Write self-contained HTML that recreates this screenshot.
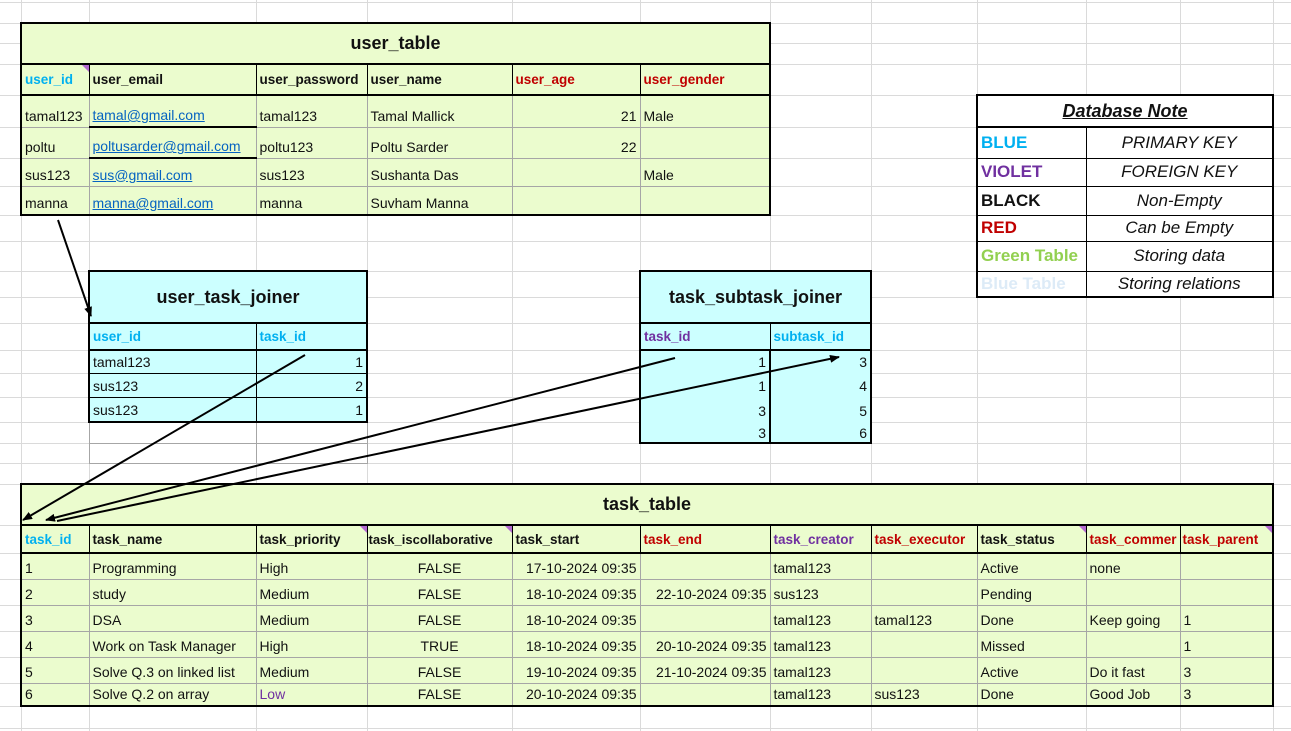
<!DOCTYPE html>
<html><head><meta charset="utf-8"><style>
body{margin:0;width:1291px;height:731px;background:#fff;position:relative;overflow:hidden;font-family:"Liberation Sans",Arial,sans-serif;font-size:14px;color:#111}
table{position:absolute;border-collapse:collapse;table-layout:fixed;border:2px solid #000}
td{padding:0 3px;white-space:nowrap;overflow:hidden;border:1px solid #a6a6a6;vertical-align:bottom;padding-bottom:3px;box-sizing:border-box}
.g td{background:#ebfcce}
.c td{background:#ccffff}
td.t{font-weight:bold;font-size:18px;text-align:center;vertical-align:middle;border-bottom:2px solid #000;padding:0}
tr.h td{font-weight:bold;font-size:13.5px;border:1px solid #000;border-bottom:2px solid #000;vertical-align:middle;padding-bottom:0}
.b{color:#00b0f0}.v{color:#7030a0}.r{color:#c00000}
.R{text-align:right}.C{text-align:center}
a{color:#0563c1;text-decoration:underline}
.tri{position:absolute;width:0;height:0;border-top:7px solid #b36ad0;border-left:7px solid transparent}
.n td{border:1px solid #000;font-size:17px;vertical-align:middle;padding-bottom:0}
.n td.k{font-weight:bold}
.n td.d{text-align:center;font-style:italic}
</style></head><body>
<svg width="1291" height="731" style="position:absolute;left:0;top:0">
<g stroke="#dadada" stroke-width="1">
<line x1="21.5" y1="0" x2="21.5" y2="731"/><line x1="89.5" y1="0" x2="89.5" y2="731"/><line x1="256.5" y1="0" x2="256.5" y2="731"/><line x1="367.5" y1="0" x2="367.5" y2="731"/><line x1="512.5" y1="0" x2="512.5" y2="731"/><line x1="640.5" y1="0" x2="640.5" y2="731"/><line x1="770.5" y1="0" x2="770.5" y2="731"/><line x1="871.5" y1="0" x2="871.5" y2="731"/><line x1="977.5" y1="0" x2="977.5" y2="731"/><line x1="1086.5" y1="0" x2="1086.5" y2="731"/><line x1="1180.5" y1="0" x2="1180.5" y2="731"/><line x1="1273.5" y1="0" x2="1273.5" y2="731"/>
<line x1="0" y1="2.5" x2="1291" y2="2.5"/><line x1="0" y1="23.5" x2="1291" y2="23.5"/><line x1="0" y1="43.5" x2="1291" y2="43.5"/><line x1="0" y1="64.5" x2="1291" y2="64.5"/><line x1="0" y1="95.5" x2="1291" y2="95.5"/><line x1="0" y1="127.5" x2="1291" y2="127.5"/><line x1="0" y1="158.5" x2="1291" y2="158.5"/><line x1="0" y1="186.5" x2="1291" y2="186.5"/><line x1="0" y1="215.5" x2="1291" y2="215.5"/><line x1="0" y1="241.5" x2="1291" y2="241.5"/><line x1="0" y1="271.5" x2="1291" y2="271.5"/><line x1="0" y1="297.5" x2="1291" y2="297.5"/><line x1="0" y1="323.5" x2="1291" y2="323.5"/><line x1="0" y1="350.5" x2="1291" y2="350.5"/><line x1="0" y1="373.5" x2="1291" y2="373.5"/><line x1="0" y1="397.5" x2="1291" y2="397.5"/><line x1="0" y1="422.5" x2="1291" y2="422.5"/><line x1="0" y1="443.5" x2="1291" y2="443.5"/><line x1="0" y1="463.5" x2="1291" y2="463.5"/><line x1="0" y1="484.5" x2="1291" y2="484.5"/><line x1="0" y1="525.5" x2="1291" y2="525.5"/><line x1="0" y1="553.5" x2="1291" y2="553.5"/><line x1="0" y1="579.5" x2="1291" y2="579.5"/><line x1="0" y1="605.5" x2="1291" y2="605.5"/><line x1="0" y1="631.5" x2="1291" y2="631.5"/><line x1="0" y1="657.5" x2="1291" y2="657.5"/><line x1="0" y1="683.5" x2="1291" y2="683.5"/><line x1="0" y1="706.5" x2="1291" y2="706.5"/><line x1="0" y1="728.5" x2="1291" y2="728.5"/>
</g>
<g stroke="#a6a6a6"><rect x="89.5" y="422.5" width="278" height="41" fill="none"/><line x1="89" y1="443.5" x2="367" y2="443.5"/><line x1="256.5" y1="422" x2="256.5" y2="463"/></g>
</svg>

<table class="g" style="left:20px;top:22px;width:751px;height:194px">
<colgroup><col style="width:68px"><col style="width:167px"><col style="width:111px"><col style="width:145px"><col style="width:128px"><col style="width:130px"></colgroup>
<tr style="height:41px"><td class="t" colspan="6">user_table</td></tr>
<tr class="h" style="height:31px"><td class="b">user_id</td><td>user_email</td><td>user_password</td><td>user_name</td><td class="r">user_age</td><td class="r">user_gender</td></tr>
<tr style="height:32px"><td>tamal123</td><td style="border-bottom:2px solid #000"><a>tamal@gmail.com</a></td><td>tamal123</td><td>Tamal Mallick</td><td class="R">21</td><td>Male</td></tr>
<tr style="height:31px"><td>poltu</td><td style="border-bottom:2px solid #000"><a>poltusarder@gmail.com</a></td><td>poltu123</td><td>Poltu Sarder</td><td class="R">22</td><td></td></tr>
<tr style="height:28px"><td>sus123</td><td><a>sus@gmail.com</a></td><td>sus123</td><td>Sushanta Das</td><td></td><td>Male</td></tr>
<tr style="height:29px"><td>manna</td><td><a>manna@gmail.com</a></td><td>manna</td><td>Suvham Manna</td><td></td><td></td></tr>
</table>

<table class="c" style="left:88px;top:270px;width:280px;height:153px">
<colgroup><col style="width:167px"><col style="width:111px"></colgroup>
<tr style="height:52px"><td class="t" colspan="2">user_task_joiner</td></tr>
<tr class="h" style="height:27px"><td class="b">user_id</td><td class="b">task_id</td></tr>
<tr style="height:23px"><td style="border-color:#000">tamal123</td><td class="R" style="border-color:#000">1</td></tr>
<tr style="height:24px"><td style="border-color:#000">sus123</td><td class="R" style="border-color:#000">2</td></tr>
<tr style="height:25px"><td style="border-color:#000">sus123</td><td class="R" style="border-color:#000">1</td></tr>
</table>

<table class="c" style="left:639px;top:270px;width:233px;height:174px">
<colgroup><col style="width:130px"><col style="width:101px"></colgroup>
<tr style="height:52px"><td class="t" colspan="2">task_subtask_joiner</td></tr>
<tr class="h" style="height:27px"><td class="v">task_id</td><td class="b">subtask_id</td></tr>
<tr style="height:23px"><td class="R" style="border:none;border-right:2px solid #000">1</td><td class="R" style="border:none">3</td></tr>
<tr style="height:24px"><td class="R" style="border:none;border-right:2px solid #000">1</td><td class="R" style="border:none">4</td></tr>
<tr style="height:25px"><td class="R" style="border:none;border-right:2px solid #000">3</td><td class="R" style="border:none">5</td></tr>
<tr style="height:21px"><td class="R" style="border:none;border-right:2px solid #000;padding-bottom:1px">3</td><td class="R" style="border:none;padding-bottom:1px">6</td></tr>
</table>

<table class="n" style="left:976px;top:94px;width:298px;height:204px;background:#fff">
<colgroup><col style="width:109px"><col style="width:187px"></colgroup>
<tr style="height:32px"><td colspan="2" style="border:2px solid #000;text-align:center;padding:0;font-weight:bold;font-style:italic;text-decoration:underline;font-size:18px">Database Note</td></tr>
<tr style="height:31px"><td class="k b">BLUE</td><td class="d">PRIMARY KEY</td></tr>
<tr style="height:28px"><td class="k v">VIOLET</td><td class="d">FOREIGN KEY</td></tr>
<tr style="height:29px"><td class="k">BLACK</td><td class="d">Non-Empty</td></tr>
<tr style="height:26px"><td class="k r">RED</td><td class="d">Can be Empty</td></tr>
<tr style="height:30px"><td class="k" style="color:#92d050">Green Table</td><td class="d">Storing data</td></tr>
<tr style="height:26px"><td class="k" style="color:#ddebf7">Blue Table</td><td class="d">Storing relations</td></tr>
</table>

<table class="g" style="left:20px;top:483px;width:1254px;height:224px">
<colgroup><col style="width:68px"><col style="width:167px"><col style="width:111px"><col style="width:145px"><col style="width:128px"><col style="width:130px"><col style="width:101px"><col style="width:106px"><col style="width:109px"><col style="width:94px"><col style="width:93px"></colgroup>
<tr style="height:41px"><td class="t" colspan="11">task_table</td></tr>
<tr class="h" style="height:28px"><td class="b">task_id</td><td>task_name</td><td>task_priority</td><td style="font-size:13px;padding:0 1px">task_iscollaborative</td><td>task_start</td><td class="r">task_end</td><td class="v">task_creator</td><td class="r">task_executor</td><td>task_status</td><td class="r" style="padding-right:0">task_commer</td><td class="r" style="padding-left:2px">task_parent</td></tr>
<tr style="height:26px"><td>1</td><td>Programming</td><td>High</td><td class="C">FALSE</td><td class="R">17-10-2024 09:35</td><td></td><td>tamal123</td><td></td><td>Active</td><td>none</td><td></td></tr>
<tr style="height:26px"><td>2</td><td>study</td><td>Medium</td><td class="C">FALSE</td><td class="R">18-10-2024 09:35</td><td class="R">22-10-2024 09:35</td><td>sus123</td><td></td><td>Pending</td><td></td><td></td></tr>
<tr style="height:26px"><td>3</td><td>DSA</td><td>Medium</td><td class="C">FALSE</td><td class="R">18-10-2024 09:35</td><td></td><td>tamal123</td><td>tamal123</td><td>Done</td><td>Keep going</td><td>1</td></tr>
<tr style="height:26px"><td>4</td><td>Work on Task Manager</td><td>High</td><td class="C">TRUE</td><td class="R">18-10-2024 09:35</td><td class="R">20-10-2024 09:35</td><td>tamal123</td><td></td><td>Missed</td><td></td><td>1</td></tr>
<tr style="height:26px"><td>5</td><td>Solve Q.3 on linked list</td><td>Medium</td><td class="C">FALSE</td><td class="R">19-10-2024 09:35</td><td class="R">21-10-2024 09:35</td><td>tamal123</td><td></td><td>Active</td><td>Do it fast</td><td>3</td></tr>
<tr style="height:23px"><td>6</td><td>Solve Q.2 on array</td><td class="v">Low</td><td class="C">FALSE</td><td class="R">20-10-2024 09:35</td><td></td><td>tamal123</td><td>sus123</td><td>Done</td><td>Good Job</td><td>3</td></tr>
</table>

<div class="tri" style="left:82px;top:65px"></div>
<div class="tri" style="left:360px;top:526px"></div>
<div class="tri" style="left:505px;top:526px"></div>
<div class="tri" style="left:1079px;top:526px"></div>
<div class="tri" style="left:1265px;top:526px"></div>

<svg width="1291" height="731" style="position:absolute;left:0;top:0">
<defs><marker id="m" markerWidth="10" markerHeight="8" refX="9" refY="4" orient="auto" markerUnits="userSpaceOnUse"><path d="M0,0 L10,4 L0,8 z" fill="#000"/></marker></defs>
<g stroke="#000" stroke-width="2" fill="none" marker-end="url(#m)">
<line x1="58" y1="220" x2="91" y2="316"/>
<line x1="305" y1="355" x2="23" y2="520"/>
<line x1="675" y1="358" x2="46" y2="520"/>
<line x1="57" y1="521" x2="839" y2="357"/>
</g></svg>
</body></html>
